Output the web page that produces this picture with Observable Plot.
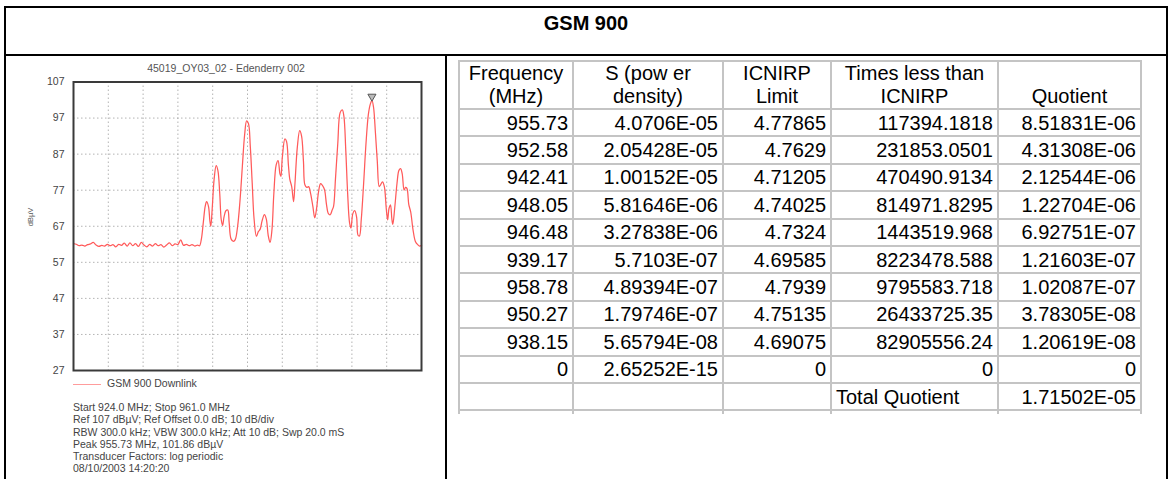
<!DOCTYPE html>
<html><head><meta charset="utf-8">
<script src="https://cdn.jsdelivr.net/npm/d3@7"></script>
<script src="https://cdn.jsdelivr.net/npm/@observablehq/plot@0.6"></script>
<style>
body{margin:0;background:#fff;font-family:"Liberation Sans",Arial,sans-serif;}
#page{position:relative;width:1171px;height:479px;overflow:hidden;background:#fff;}
.hl{position:absolute;background:#000;}
#title{position:absolute;left:6px;top:8px;width:1160px;text-align:center;font-weight:bold;font-size:20px;line-height:30px;}
#ctitle{position:absolute;left:6px;top:62px;width:440px;text-align:center;font-size:10.5px;color:#555;}
#chart{position:absolute;left:0;top:60px;}
#legend{position:absolute;left:73px;top:377px;font-size:10.5px;color:#444;}
#legend span.sw{display:inline-block;width:28px;height:0;border-top:1.5px solid #ff9c9c;vertical-align:middle;margin-right:6px;}
#info{position:absolute;left:73px;top:401px;font-size:10.5px;line-height:12.3px;color:#444;white-space:pre;}
#tbl{position:absolute;left:458px;top:60px;border-collapse:collapse;font-size:20px;}
#tbl td{border:2px solid #c4c4c4;padding:0 4px;height:25.4px;line-height:22px;vertical-align:middle;text-align:right;white-space:nowrap;}
#tbl tr.h td{text-align:center;vertical-align:bottom;height:46px;line-height:23px;}
#tbl td.l{text-align:left;}
#tbl tr.stub td{height:3px;border-bottom:none;padding:0;}
</style>
</head><body>
<div id="page">
  <div class="hl" style="left:4px;top:6px;width:1164px;height:2px"></div>
  <div class="hl" style="left:4px;top:6px;width:2px;height:480px"></div>
  <div class="hl" style="left:1166px;top:6px;width:2px;height:480px"></div>
  <div class="hl" style="left:4px;top:54px;width:1164px;height:2px"></div>
  <div class="hl" style="left:445px;top:54px;width:2px;height:430px"></div>
  <div id="title"></div>
  <div id="ctitle"></div>
  <div id="chart"></div>
  <div id="legend"><span class="sw"></span><span id="legtext"></span></div>
  <div id="info"></div>
  <table id="tbl"></table>
</div>
<script>
// ---------- data ----------
const mainTitle = "GSM 900";
const chartTitle = "45019_OY03_02 - Edenderry 002";
const seriesName = "GSM 900 Downlink";
const yLabel = "dBµV";
const yTicks = [27, 37, 47, 57, 67, 77, 87, 97, 107];
const startMHz = 924.0, stopMHz = 961.0, xDivisions = 10;
const infoLines = [
  "Start 924.0 MHz; Stop 961.0 MHz",
  "Ref 107 dBµV; Ref Offset 0.0 dB; 10 dB/div",
  "RBW 300.0 kHz; VBW 300.0 kHz; Att 10 dB; Swp 20.0 mS",
  "Peak 955.73 MHz, 101.86 dBµV",
  "Transducer Factors: log periodic",
  "08/10/2003 14:20:20"
];
const peakMarker = {f: 955.73, v: 101.86};

// spectrum trace: frequency (MHz) and level (dBµV)
const traceFreq = [
  924.0,924.3,924.6,924.9,925.2,925.5,925.8,926.1,926.4,926.7,927.0,927.3,927.6,927.9,928.2,928.5,928.8,929.1,929.4,929.7,
  930.0,930.3,930.6,930.9,931.2,931.5,931.8,932.1,932.4,932.7,933.0,933.3,933.6,933.9,934.2,934.5,934.8,935.1,935.4,935.7,
  936.0,936.3,936.6,936.9,937.2,937.4,
  937.6,937.8,938.0,938.15,938.35,938.5,938.6,938.75,938.95,939.17,939.35,939.55,939.7,939.85,940.0,940.2,940.4,940.55,940.75,941.0,
  941.2,941.45,941.7,941.95,942.2,942.41,942.6,942.8,943.0,943.2,943.45,943.65,943.85,944.05,944.3,944.5,944.7,944.9,945.1,945.3,
  945.55,945.75,945.95,946.05,946.2,946.48,946.65,946.85,947.0,947.2,947.4,947.55,947.8,948.05,948.25,948.45,948.6,948.8,949.0,949.2,
  949.45,949.65,949.85,950.05,950.27,950.5,950.7,950.9,951.1,951.3,951.5,951.65,951.85,952.1,952.35,952.58,952.75,952.95,953.15,953.35,
  953.5,953.7,953.9,954.1,954.25,954.4,954.6,954.85,955.1,955.35,955.55,955.73,955.9,956.1,956.3,956.5,956.65,956.85,957.05,957.25,
  957.4,957.55,957.7,957.85,957.95,958.15,958.4,958.6,958.78,958.95,959.15,959.3,959.45,959.65,959.85,960.1,960.35,960.6,960.8,961.0
];
const traceLevel = [
  62.2,62.0,61.6,61.8,61.5,61.9,62.1,62.5,61.8,61.4,61.7,61.5,62.0,61.6,61.9,61.3,62.0,61.7,62.3,61.5,
  62.4,61.6,62.2,61.4,62.5,61.8,61.3,62.0,61.5,62.2,61.6,61.9,61.2,61.8,62.4,61.6,62.1,61.9,63.2,61.7,
  62.0,61.6,61.9,61.5,61.8,61.6,
  63.5,68.0,72.5,73.8,72.5,68.5,67.0,72.0,80.0,83.8,82.5,76.0,69.0,67.2,69.5,71.3,71.5,68.0,63.5,62.8,
  63.3,67.0,74.0,83.5,92.5,96.2,95.5,89.0,79.0,69.0,64.2,65.5,66.2,68.5,70.2,69.0,64.5,62.5,66.0,76.0,
  84.0,85.2,81.5,80.8,86.0,91.2,90.5,84.0,80.0,78.0,73.8,79.0,89.0,93.5,92.0,85.0,78.5,77.8,78.0,76.2,
  72.5,69.3,72.0,76.5,78.8,78.2,77.0,73.0,70.5,70.2,71.5,72.5,80.0,90.0,98.5,99.3,97.5,88.0,76.0,68.0,
  66.5,70.5,71.3,69.5,64.5,64.3,69.0,79.0,90.0,98.0,100.8,101.9,100.0,93.0,85.0,78.0,78.5,79.3,78.0,72.0,
  68.8,72.0,72.9,69.0,67.5,72.0,79.0,82.5,83.0,81.5,77.0,77.8,77.5,73.0,71.0,66.0,62.8,61.9,61.5,61.7
];

// table
const colHeaders = [["Frequency","(MHz)"],["S (pow er","density)"],["ICNIRP","Limit"],["Times less than","ICNIRP"],["","Quotient"]];
const frequency = ["955.73","952.58","942.41","948.05","946.48","939.17","958.78","950.27","938.15","0"];
const powerDensity = ["4.0706E-05","2.05428E-05","1.00152E-05","5.81646E-06","3.27838E-06","5.7103E-07","4.89394E-07","1.79746E-07","5.65794E-08","2.65252E-15"];
const icnirpLimit = ["4.77865","4.7629","4.71205","4.74025","4.7324","4.69585","4.7939","4.75135","4.69075","0"];
const timesLess = ["117394.1818","231853.0501","470490.9134","814971.8295","1443519.968","8223478.588","9795583.718","26433725.35","82905556.24","0"];
const quotient = ["8.51831E-06","4.31308E-06","2.12544E-06","1.22704E-06","6.92751E-07","1.21603E-07","1.02087E-07","3.78305E-08","1.20619E-08","0"];
const totalLabel = "Total Quotient";
const totalQuotient = "1.71502E-05";

// ---------- build ----------
document.getElementById("title").textContent = mainTitle;
document.getElementById("ctitle").textContent = chartTitle;
document.getElementById("legtext").textContent = seriesName;
document.getElementById("info").textContent = infoLines.join("\n");

const trace = traceFreq.map((f, i) => ({f, v: traceLevel[i]}));
const xGrid = d3.range(1, xDivisions).map(i => startMHz + i * (stopMHz - startMHz) / xDivisions);
const gridStyle = {stroke: "#999", strokeOpacity: 0.75, strokeWidth: 1, strokeDasharray: "1.5,2.5"};

const chart = Plot.plot({
  width: 440, height: 320,
  marginLeft: 73, marginRight: 19, marginTop: 21.5, marginBottom: 10,
  x: {domain: [startMHz, stopMHz], axis: null},
  y: {domain: [yTicks[0], yTicks[yTicks.length - 1]], axis: null},
  style: {fontFamily: "Liberation Sans, Arial, sans-serif", color: "#444", background: "transparent", overflow: "visible"},
  marks: [
    Plot.gridX(xGrid, gridStyle),
    Plot.gridY(yTicks, gridStyle),
    Plot.line(trace, {x: "f", y: "v", stroke: "#ff5a5a", strokeWidth: 1.25, curve: "catmull-rom"}),
    Plot.dot([peakMarker], {x: "f", y: "v", symbol: "triangle", rotate: 180, r: 3, dy: -4, stroke: "#555", fill: "#bbb", strokeWidth: 1}),
    Plot.axisY(yTicks, {tickSize: 0, tickPadding: 9, fontSize: 10.5, label: null, fill: "#444"}),
    Plot.text([yLabel], {text: d => d, frameAnchor: "left", dx: -43, rotate: -90, fontSize: 7.5, fill: "#555"}),
    Plot.frame({stroke: "#3a3a3a", strokeWidth: 2})
  ]
});
document.getElementById("chart").appendChild(chart);

const tbl = document.getElementById("tbl");
const widths = [114, 150, 108, 167, 143];
let html = "<colgroup>" + widths.map(w => `<col style="width:${w}px">`).join("") + "</colgroup>";
html += "<tr class='h'>" + colHeaders.map(h => `<td>${h[0] || "&nbsp;"}<br>${h[1]}</td>`).join("") + "</tr>";
frequency.forEach((f, i) => {
  html += `<tr><td>${f}</td><td>${powerDensity[i]}</td><td>${icnirpLimit[i]}</td><td>${timesLess[i]}</td><td>${quotient[i]}</td></tr>`;
});
html += `<tr><td></td><td></td><td></td><td class="l">${totalLabel}</td><td>${totalQuotient}</td></tr>`;
html += `<tr class="stub"><td></td><td></td><td></td><td></td><td></td></tr>`;
tbl.innerHTML = html;
tbl.style.tableLayout = "fixed";
tbl.style.width = widths.reduce((a, b) => a + b, 0) + "px";
</script>
</body></html>
